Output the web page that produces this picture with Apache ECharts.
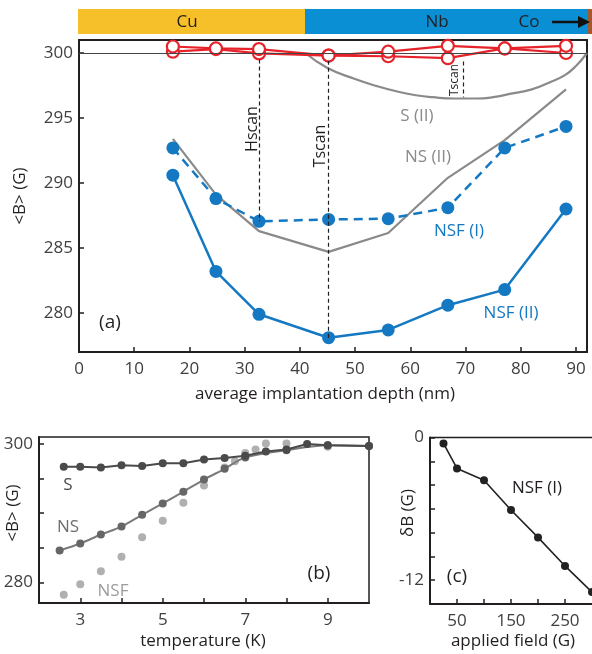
<!DOCTYPE html>
<html>
<head>
<meta charset="utf-8">
<script src="https://cdn.jsdelivr.net/npm/echarts@6/dist/echarts.min.js"></script>
<style>
html,body{margin:0;padding:0;background:#fff;}
#main{width:592px;height:654px;}
</style>
</head>
<body>
<div id="main"></div>
<script>
// (a) depth scan
var depth = [17.0, 24.8, 32.6, 45.2, 56.0, 66.8, 77.1, 88.2];
var nsf2 = [290.6, 283.2, 279.9, 278.1, 278.7, 280.6, 281.8, 288.0];
var nsf1 = [292.7, 288.8, 287.05, 287.2, 287.25, 288.1, 292.7, 294.35];
var ns2 = [293.4, 289.1, 286.3, 284.7, 286.15, 290.4, 293.3, 297.2];
var redA = [300.5, 300.35, 300.3, 299.8, 300.1, 300.55, 300.35, 300.55];
var redB = [300.1, 300.3, 299.97, 299.8, 299.75, 299.6, 300.35, 300.0];
var s2Depth = [41, 45, 50, 54, 58, 61, 64, 68, 72, 75, 78, 82, 85, 88, 90, 92];
var s2 = [300, 298.85, 298.0, 297.45, 297.0, 296.75, 296.6, 296.5, 296.5, 296.6, 296.85, 297.2, 297.7, 298.3, 299.0, 300.0];
var depthTicks = [0, 10, 20, 30, 40, 50, 60, 70, 80, 90];
var bTicksA = [280, 285, 290, 295, 300];
// dashed markers: [x, top, bottom]
var hscan = [32.6, 299.5, 287.05];
var tscan = [45.2, 299.4, 278.1];
var tscanSmall = [69.6, 299.35, 296.6];

// (b) temperature scan
var tempS = [2.6, 3, 3.5, 4, 4.5, 5, 5.5, 6, 6.5, 7, 7.5, 8, 8.5, 9, 10];
var bS = [296.7, 296.7, 296.6, 296.9, 296.8, 297.2, 297.2, 297.75, 297.95, 298.3, 298.9, 299.2, 300.0, 299.8, 299.7];
var tempNS = [2.5, 3, 3.5, 4, 4.5, 5, 5.5, 6, 6.5, 7, 8, 9, 10];
var bNS = [284.6, 285.6, 286.9, 288.05, 289.75, 291.4, 293.1, 294.85, 296.4, 298.05, 299.1, 299.8, 299.7];
var tempNSF = [2.6, 3, 3.5, 4, 4.5, 5, 5.5, 6, 6.5, 6.75, 7, 7.25, 7.5, 8, 9];
var bNSF = [278.2, 279.7, 281.6, 283.7, 286.5, 288.9, 291.5, 294.0, 296.6, 297.5, 298.7, 299.2, 300.05, 300.05, 299.6];
var tempTicks = [3, 4, 5, 6, 7, 8, 9];
var tempLabels = [3, 5, 7, 9];
var bTicksB = [280, 285, 290, 295, 300];
var bLabelsB = [280, 300];

// (c) field scan
var field = [25, 50, 100, 150, 200, 250, 300];
var dB = [-0.5, -2.6, -3.6, -6.1, -8.4, -10.8, -13.0];
var fieldTicks = [50, 100, 150, 200, 250];
var fieldLabels = [50, 150, 250];
var dbTicks = [0, -2, -4, -6, -8, -10, -12];
var dbLabels = [0, -12];

function pairs(xs, ys) {
  return xs.map(function (x, i) { return [x, ys[i]]; });
}

var ink = '#231f20';
var blue = '#1479c2';
var red = '#e6232b';
var font = 'Open Sans';

function xAx(idx, min, max, ticks, labels) {
  return {
    type: 'value', gridIndex: idx, min: min, max: max,
    splitLine: {show: false},
    axisLine: {onZero: false, lineStyle: {color: ink, width: 2}},
    axisTick: {inside: true, length: 5, customValues: ticks, lineStyle: {color: ink, width: 1.5}},
    axisLabel: {customValues: labels, color: '#404040', fontSize: 17, fontFamily: font, margin: 9}
  };
}
function yAx(idx, min, max, ticks, labels) {
  return {
    type: 'value', gridIndex: idx, min: min, max: max,
    splitLine: {show: false},
    axisLine: {onZero: false, lineStyle: {color: ink, width: 2}},
    axisTick: {inside: true, length: 5, customValues: ticks, lineStyle: {color: ink, width: 1.5}},
    axisLabel: {customValues: labels, color: '#404040', fontSize: 17, fontFamily: font, margin: 6}
  };
}
function txt(x, y, s, color, size, rot) {
  return {
    type: 'text', x: x, y: y, rotation: rot ? Math.PI / 2 : 0, silent: true,
    style: {text: s, fill: color, font: size + 'px "' + font + '"',
      align: 'center', verticalAlign: 'middle', textAlign: 'center', textVerticalAlign: 'middle'}
  };
}
function vline(m) {
  return [{coord: [m[0], m[1]]}, {coord: [m[0], m[2]]}];
}

var myChart = echarts.init(document.getElementById('main'));

var option = {
  animation: false,
  grid: [
    {left: 79, top: 40, width: 508, height: 312, show: true, borderColor: ink, borderWidth: 2},
    {left: 39, top: 437, width: 330, height: 166, show: true, borderColor: ink, borderWidth: 1.5},
    {left: 430, top: 437.5, width: 162, height: 166.5}
  ],
  xAxis: [
    xAx(0, 0, 92, depthTicks, depthTicks),
    xAx(1, 2, 10, tempTicks, tempLabels),
    xAx(2, 0, 300, fieldTicks, fieldLabels)
  ],
  yAxis: [
    yAx(0, 277, 301, bTicksA, bTicksA),
    yAx(1, 277, 301, bTicksB, bLabelsB),
    yAx(2, -14, 0, dbTicks, dbLabels)
  ],
  series: [
    {
      type: 'line', xAxisIndex: 0, yAxisIndex: 0, data: pairs(s2Depth, s2),
      smooth: true, showSymbol: false, lineStyle: {color: '#8a8a8a', width: 2.2},
      markLine: {
        silent: true, symbol: 'none', label: {show: false},
        lineStyle: {color: '#444', width: 1.2, type: 'solid'},
        data: [{yAxis: 300}]
      }
    },
    {
      type: 'line', xAxisIndex: 0, yAxisIndex: 0, data: pairs(depth, ns2),
      showSymbol: false, lineStyle: {color: '#8a8a8a', width: 2.2},
      markLine: {
        silent: true, symbol: 'none', label: {show: false},
        lineStyle: {color: ink, width: 1.2, type: [4, 3]},
        data: [vline(hscan), vline(tscan), vline(tscanSmall)]
      }
    },
    {
      type: 'line', xAxisIndex: 0, yAxisIndex: 0, data: pairs(depth, nsf1),
      symbol: 'circle', symbolSize: 13, itemStyle: {color: blue},
      lineStyle: {color: blue, width: 2.5, type: [9, 6]}
    },
    {
      type: 'line', xAxisIndex: 0, yAxisIndex: 0, data: pairs(depth, nsf2),
      symbol: 'circle', symbolSize: 13, itemStyle: {color: blue},
      lineStyle: {color: blue, width: 2.5}
    },
    {
      type: 'line', xAxisIndex: 0, yAxisIndex: 0, data: pairs(depth, redB),
      symbol: 'circle', symbolSize: 12, itemStyle: {color: '#fff', borderColor: red, borderWidth: 2.2},
      lineStyle: {color: red, width: 2.2}
    },
    {
      type: 'line', xAxisIndex: 0, yAxisIndex: 0, data: pairs(depth, redA),
      symbol: 'circle', symbolSize: 12, itemStyle: {color: '#fff', borderColor: red, borderWidth: 2.2},
      lineStyle: {color: red, width: 2.2}
    },
    // (b)
    {
      type: 'scatter', xAxisIndex: 1, yAxisIndex: 1, data: pairs(tempNSF, bNSF),
      symbolSize: 8, itemStyle: {color: '#9c9c9c'}
    },
    {
      type: 'line', xAxisIndex: 1, yAxisIndex: 1, data: pairs(tempNS, bNS),
      smooth: 0.3, symbol: 'circle', symbolSize: 8, itemStyle: {color: '#666'},
      lineStyle: {color: '#7a7a7a', width: 2}
    },
    {
      type: 'line', xAxisIndex: 1, yAxisIndex: 1, data: pairs(tempS, bS),
      symbol: 'circle', symbolSize: 8, itemStyle: {color: '#4a4a4a'},
      lineStyle: {color: '#4a4a4a', width: 2}
    },
    // (c)
    {
      type: 'line', xAxisIndex: 2, yAxisIndex: 2, data: pairs(field, dB),
      symbol: 'circle', symbolSize: 8, itemStyle: {color: '#222'},
      lineStyle: {color: '#222', width: 1.6}
    }
  ],
  graphic: [
    {type: 'rect', shape: {x: 78, y: 9, width: 227, height: 25}, style: {fill: '#f5c02a'}, silent: true},
    {type: 'rect', shape: {x: 305, y: 9, width: 283, height: 25}, style: {fill: '#0a8fd5'}, silent: true},
    {type: 'rect', shape: {x: 588, y: 9, width: 4, height: 25}, style: {fill: '#a5582b'}, silent: true},
    txt(187, 22, 'Cu', ink, 17),
    txt(437, 22, 'Nb', ink, 17),
    txt(529, 22, 'Co', ink, 17),
    {type: 'line', shape: {x1: 552, y1: 22, x2: 580, y2: 22}, style: {stroke: '#111', lineWidth: 2.5}, silent: true},
    {type: 'polygon', shape: {points: [[578, 16], [590, 22], [578, 28]]}, style: {fill: '#111'}, silent: true},
    // top edge of panel (c), its right side runs off the picture
    {type: 'line', shape: {x1: 430, y1: 437.5, x2: 592, y2: 437.5}, style: {stroke: ink, lineWidth: 1.5}, silent: true},

    txt(20, 196, '<B> (G)', ink, 17, true),
    txt(325, 394, 'average implantation depth (nm)', ink, 17),
    txt(110, 323, '(a)', ink, 19),
    txt(252, 129, 'Hscan', ink, 16, true),
    txt(320, 146, 'Tscan', ink, 16, true),
    txt(455, 80, 'Tscan', ink, 12, true),
    txt(417, 116, 'S (II)', '#8a8a8a', 17),
    txt(428, 157, 'NS (II)', '#8a8a8a', 17),
    txt(459, 231, 'NSF (I)', blue, 17),
    txt(511, 313, 'NSF (II)', blue, 17),

    txt(13, 513, '<B> (G)', ink, 17, true),
    txt(203, 641, 'temperature (K)', ink, 17),
    txt(68, 485, 'S', '#4a4a4a', 17),
    txt(68, 527, 'NS', '#6e6e6e', 17),
    txt(113, 591, 'NSF', '#9c9c9c', 17),
    txt(319, 574, '(b)', ink, 19),

    txt(408, 513, 'δB (G)', ink, 17, true),
    txt(513, 641, 'applied field (G)', ink, 17),
    txt(537, 488, 'NSF (I)', ink, 17),
    txt(457, 577, '(c)', ink, 19)
  ]
};

myChart.setOption(option);
</script>
</body>
</html>
